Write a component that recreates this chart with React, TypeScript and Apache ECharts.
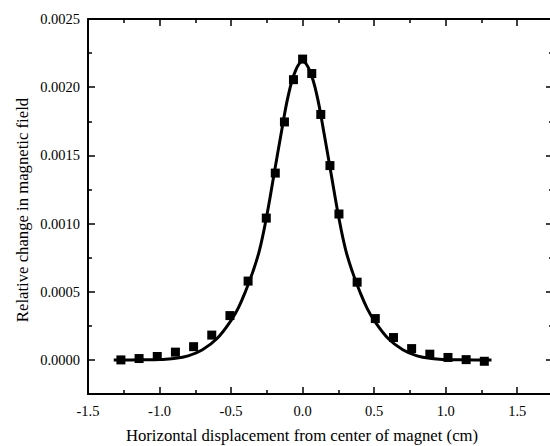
import React, { useEffect, useRef } from "react";
import * as echarts from "echarts";

// Measured data (squares)
const dataX = [-1.27, -1.143, -1.016, -0.889, -0.762, -0.635, -0.508, -0.381, -0.254, -0.191, -0.127, -0.064, 0, 0.064, 0.127, 0.191, 0.254, 0.381, 0.508, 0.635, 0.762, 0.889, 1.016, 1.143, 1.27];
const dataY = [0.0, 0.00001, 0.000025, 0.000057, 0.000097, 0.000182, 0.000325, 0.000578, 0.00104, 0.00137, 0.001745, 0.002055, 0.002206, 0.0021, 0.0018, 0.001425, 0.00107, 0.00057, 0.000303, 0.000164, 0.000083, 0.000042, 0.000018, 0.000002, -0.00001];

// Fitted curve
const fitX = [-1.32, -1.2, -1.1, -1.0, -0.9, -0.8, -0.7, -0.6, -0.5, -0.45, -0.4, -0.35, -0.3, -0.25, -0.2, -0.15, -0.1, -0.05, 0, 0.05, 0.1, 0.15, 0.2, 0.25, 0.3, 0.35, 0.4, 0.45, 0.5, 0.6, 0.7, 0.8, 0.9, 1.0, 1.1, 1.2, 1.32];
const fitY = [0, 0, 0.000001, 0.000003, 0.00001, 0.00003, 0.000075, 0.000155, 0.00029, 0.00038, 0.0005, 0.00064, 0.00081, 0.00106, 0.00136, 0.00166, 0.00194, 0.00212, 0.00219, 0.00212, 0.00194, 0.00166, 0.00136, 0.00106, 0.00081, 0.00064, 0.0005, 0.00038, 0.00029, 0.000155, 0.000075, 0.00003, 0.00001, 0.000003, 0.000001, 0, 0];

const xMajor = [-1.5, -1.0, -0.5, 0, 0.5, 1.0, 1.5];
const xMinor = [-1.25, -0.75, -0.25, 0.25, 0.75, 1.25, 1.75];
const yMajor = [0, 0.0005, 0.001, 0.0015, 0.002, 0.0025];
const yMinor = [-0.00025, 0.00025, 0.00075, 0.00125, 0.00175, 0.00225];

const xTitle = "Horizontal displacement from center of magnet (cm)";
const yTitle = "Relative change in magnetic field";

const FONT = "Liberation Serif";

export default function App() {
  const ref = useRef<HTMLDivElement>(null);
  useEffect(() => {
    if (!ref.current) return;
    const chart = echarts.init(ref.current, null, { renderer: "svg" });
    const XMIN = -1.5, XMAX = 1.75, YMIN = -0.00025, YMAX = 0.0025;
    const lineStyle = { color: "#000", width: 2 };
    const mkX = (pos: string, major: boolean, labels: boolean, line: boolean) => ({
      type: "value",
      position: pos,
      min: XMIN,
      max: XMAX,
      axisLine: { show: line, onZero: false, lineStyle },
      axisTick: { show: true, inside: true, length: major ? 7 : 4, lineStyle: { color: "#000", width: 1.5 }, customValues: major ? xMajor : xMinor },
      axisLabel: labels
        ? { show: true, customValues: xMajor, margin: 9, color: "#000", fontFamily: FONT, fontSize: 14.5, formatter: (v: number) => v.toFixed(1) }
        : { show: false },
      splitLine: { show: false },
    });
    const mkY = (pos: string, major: boolean, labels: boolean, line: boolean) => ({
      type: "value",
      position: pos,
      min: YMIN,
      max: YMAX,
      axisLine: { show: line, onZero: false, lineStyle },
      axisTick: { show: true, inside: true, length: major ? 7 : 4, lineStyle: { color: "#000", width: 1.5 }, customValues: major ? yMajor : yMinor },
      axisLabel: labels
        ? { show: true, customValues: yMajor, margin: 8, color: "#000", fontFamily: FONT, fontSize: 14.5, formatter: (v: number) => v.toFixed(4) }
        : { show: false },
      splitLine: { show: false },
    });
    chart.setOption({
      animation: false,
      backgroundColor: "#fff",
      grid: { left: 88, top: 19, width: 465, height: 375, containLabel: false, outerBoundsMode: "none" },
      xAxis: [
        mkX("bottom", true, true, true),
        mkX("bottom", false, false, false),
        mkX("top", true, false, true),
        mkX("top", false, false, false),
      ],
      yAxis: [
        mkY("left", true, true, true),
        mkY("left", false, false, false),
        mkY("right", true, false, true),
        mkY("right", false, false, false),
      ],
      series: [
        {
          type: "line",
          xAxisIndex: 0,
          yAxisIndex: 0,
          data: fitX.map((x, i) => [x, fitY[i]]),
          smooth: 0.4,
          showSymbol: false,
          symbol: "none",
          lineStyle: { color: "#000", width: 3 },
          z: 2,
        },
        {
          type: "scatter",
          xAxisIndex: 0,
          yAxisIndex: 0,
          data: dataX.map((x, i) => [x, dataY[i]]),
          symbol: "rect",
          symbolSize: 9,
          itemStyle: { color: "#000", opacity: 1 },
          z: 3,
        },
      ],
      graphic: [
        {
          type: "text",
          x: 302,
          y: 435,
          style: { text: xTitle, fill: "#000", fontFamily: FONT, fontSize: 16.7, align: "center", verticalAlign: "middle" },
        },
        {
          type: "text",
          x: 22,
          y: 210,
          rotation: Math.PI / 2,
          style: { text: yTitle, fill: "#000", fontFamily: FONT, fontSize: 16.7, align: "center", verticalAlign: "middle" },
        },
      ],
    });
    return () => chart.dispose();
  }, []);
  return <div ref={ref} style={{ width: 550, height: 446, position: "absolute", left: 0, top: 0 }} />;
}
